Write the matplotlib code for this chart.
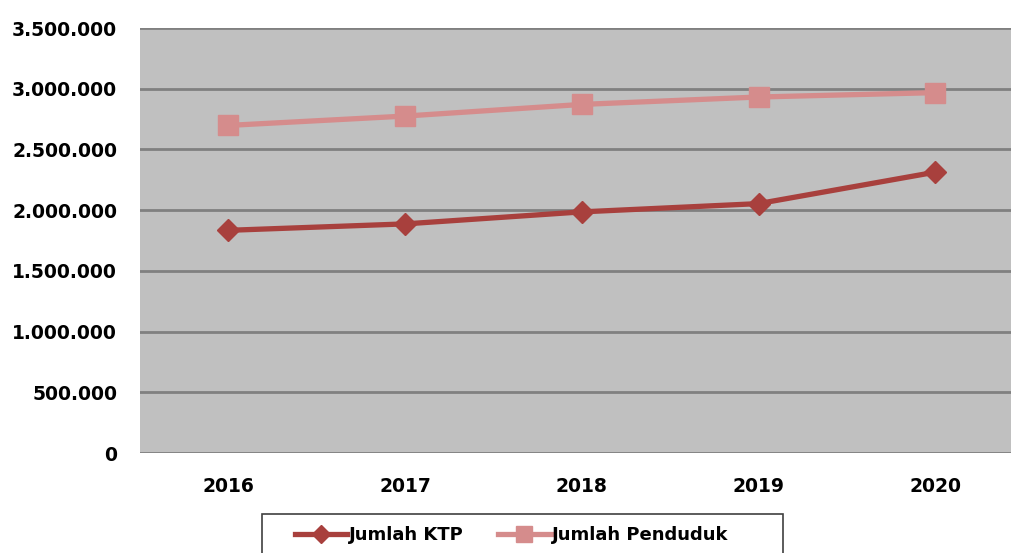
import matplotlib
matplotlib.use('Agg')
import matplotlib.pyplot as plt
from matplotlib.ticker import FuncFormatter
from matplotlib.patches import Rectangle

# data
years = ['2016', '2017', '2018', '2019', '2020']
jumlah_ktp = [1834000, 1887000, 1986000, 2054000, 2313000]
jumlah_penduduk = [2698000, 2775000, 2871000, 2932000, 2968000]

plt.rcParams['font.family'] = ['DejaVu Sans']
plt.rcParams['font.weight'] = 'bold'

fig = plt.figure(figsize=(10.11, 5.53), dpi=100)
ax = fig.add_axes([0.1385, 0.1808, 0.874, 0.7685])
ax.set_facecolor('#c0c0c0')

x = list(range(len(years)))
ax.plot(x, jumlah_ktp, color='#a8403d', lw=3.8, marker='D', ms=11,
        label='Jumlah KTP', zorder=3)
ax.plot(x, jumlah_penduduk, color='#d58c8c', lw=3.8, marker='s', ms=14.5,
        label='Jumlah Penduduk', zorder=3)

ax.set_xlim(-0.5, 4.5)
ax.set_ylim(0, 3500000)
ax.set_yticks(range(0, 3500001, 500000))
ax.yaxis.set_major_formatter(FuncFormatter(lambda v, p: '{:,.0f}'.format(v).replace(',', '.')))
ax.set_xticks(x)
ax.set_xticklabels(years)
ax.grid(axis='y', color='#808080', lw=2)
ax.set_axisbelow(True)
for s in ax.spines.values():
    s.set_visible(False)
ax.tick_params(length=0, labelsize=13.5)
ax.tick_params(axis='y', pad=16.5)
ax.tick_params(axis='x', pad=17)

# legend box (cut off by the lower edge, as in the reference)
fig.add_artist(Rectangle((262 / 1011, -0.1), (783 - 262) / 1011, 39 / 553 + 0.1,
                         transform=fig.transFigure, fill=False,
                         edgecolor='#404040', lw=1.2))
fig.legend(loc='center left', bbox_to_anchor=(295 / 1011, 18 / 553), ncol=2,
           fontsize=13, frameon=False, handlelength=2.9, borderpad=0,
           borderaxespad=0, columnspacing=1.9, handletextpad=0.1,
           markerscale=0.8)

fig.savefig('out.png', dpi=100)
